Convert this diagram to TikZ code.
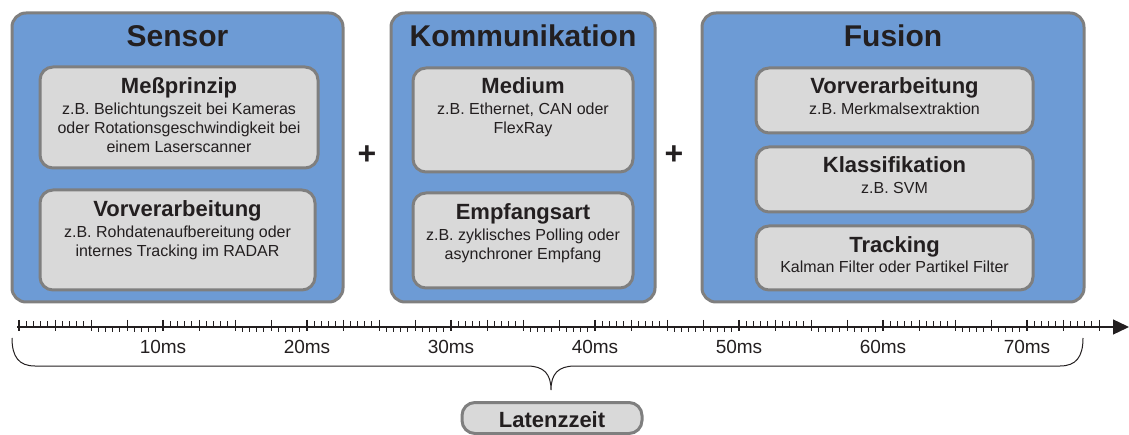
\documentclass[tikz,border=0pt]{standalone}
\usepackage{fontspec}
\setmainfont{Liberation Sans}
\usetikzlibrary{arrows.meta}
\definecolor{panelblue}{HTML}{6D9BD5}
\definecolor{framegray}{HTML}{7F7F7F}
\definecolor{cardgray}{HTML}{D9D9D9}
\definecolor{ink}{HTML}{231F20}
\begin{document}
\begin{tikzpicture}[x=1pt,y=-1pt,
  panel/.style={draw=framegray, line width=3pt, fill=panelblue, rounded corners=14pt, inner sep=0pt},
  card/.style={draw=framegray, line width=3pt, fill=cardgray, rounded corners=13pt, inner sep=0pt},
  bigtitle/.style={anchor=base, inner sep=0pt, text=ink, font=\fontsize{30}{36}\selectfont\bfseries},
  subtitle/.style={anchor=base, inner sep=0pt, text=ink, font=\fontsize{22}{26}\selectfont\bfseries},
  % multi-line bodies are anchored at the baseline of their last line
  body/.style={anchor=base, inner sep=0pt, text=ink, align=center, font=\fontsize{16}{19}\selectfont},
  plus/.style={inner sep=0pt, text=ink, font=\fontsize{32}{36}\selectfont\bfseries},
  ticklabel/.style={inner sep=0pt, text=ink, font=\fontsize{19}{22}\selectfont},
  majortick/.style={draw=ink, line width=2pt},
  midtick/.style={draw=ink, line width=0.9pt},
  minortick/.style={draw=ink, line width=0.7pt},
]
\useasboundingbox (0,0) rectangle (1129,435);

% ---- three stages ----
\node[panel, minimum width=331pt, minimum height=289pt] (sensor) at (177.5,157.5) {};
\node[panel, minimum width=264pt, minimum height=289pt] (komm) at (523,157.5) {};
\node[panel, minimum width=382pt, minimum height=289pt] (fusion) at (893,157.5) {};

\node[bigtitle] (sensorT) at (177.5,47) {Sensor};
\node[bigtitle] (kommT) at (523,47) {Kommunikation};
\node[bigtitle] (fusionT) at (893,47) {Fusion};

% Sensor
\node[card, minimum width=278pt, minimum height=101pt] (mess) at (179,117.5) {};
\node[subtitle] (messT) at (179,94) {Meßprinzip};
\node[body] (messB) at (179,152.5) {z.B. Belichtungszeit bei Kameras\\oder Rotationsgeschwindigkeit bei\\einem Laserscanner};

\node[card, minimum width=275pt, minimum height=100pt] (svor) at (177.5,240) {};
\node[subtitle] (svorT) at (177.5,216.5) {Vorverarbeitung};
\node[body] (svorB) at (177.5,256.5) {z.B. Rohdatenaufbereitung oder\\internes Tracking im RADAR};

% Kommunikation
\node[card, minimum width=220pt, minimum height=104pt] (medium) at (523,120) {};
\node[subtitle] (mediumT) at (523,94) {Medium};
\node[body] (mediumB) at (523,133.5) {z.B. Ethernet, CAN oder\\FlexRay};

\node[card, minimum width=220pt, minimum height=95pt] (empf) at (523,240.5) {};
\node[subtitle] (empfT) at (523,219.5) {Empfangsart};
\node[body] (empfB) at (523,259.5) {z.B. zyklisches Polling oder\\asynchroner Empfang};

% Fusion
\node[card, minimum width=277pt, minimum height=65pt] (fvor) at (894.5,100.5) {};
\node[subtitle] (fvorT) at (894.5,94) {Vorverarbeitung};
\node[body] (fvorB) at (894.5,114.5) {z.B. Merkmalsextraktion};

\node[card, minimum width=277pt, minimum height=65pt] (klass) at (894.5,179.5) {};
\node[subtitle] (klassT) at (894.5,172.5) {Klassifikation};
\node[body] (klassB) at (894.5,193.5) {z.B. SVM};

\node[card, minimum width=277pt, minimum height=64pt] (track) at (894.5,258) {};
\node[subtitle] (trackT) at (894.5,252.5) {Tracking};
\node[body] (trackB) at (894.5,272.5) {Kalman Filter oder Partikel Filter};

% plus signs between the stages
\node[plus] (plusA) at (367,155) {+};
\node[plus] (plusB) at (674,155) {+};

% ---- time axis ----
\coordinate (ax0) at (17,327);
\coordinate (ax1) at (1129,327);
\draw[draw=ink, line width=1.3pt, -{Triangle[length=16pt,width=15pt]}] (ax0) -- (ax1);

\foreach \i in {0,...,150}{
  \pgfmathsetmacro\xx{19+7.2*\i}
  \pgfmathtruncatemacro\r{mod(\i,20)}
  \pgfmathtruncatemacro\q{mod(\i,5)}
  \ifnum\r=0
    \draw[majortick] (\xx,320) -- (\xx,331);
  \else\ifnum\q=0
    \draw[midtick] (\xx,320) -- (\xx,331.5);
  \else\ifnum\r<10
    \draw[minortick] (\xx,321.5) -- (\xx,327);
  \else
    \draw[minortick] (\xx,327) -- (\xx,332.5);
  \fi\fi\fi
}

\foreach \k in {1,...,7}{
  \node[ticklabel] (lab\k) at (19+144*\k,347) {\k0ms};
}

% ---- brace spanning the whole latency ----
\coordinate (brL) at (12,338);
\coordinate (brR) at (1083,338);
\coordinate (brTip) at (551,390);
\draw[draw=ink, line width=1pt]
  (brL) .. controls (12,357) and (19,366) .. (35,366)
  -- (527,366) .. controls (544,366) and (551,374) .. (brTip)
  .. controls (551,374) and (558,366) .. (575,366)
  -- (1060,366) .. controls (1076,366) and (1083,357) .. (brR);

\node[card, minimum width=180pt, minimum height=31pt, rounded corners=13pt] (lat) at (552,418) {};
\node[subtitle] (latT) at (552,427) {Latenzzeit};
\end{tikzpicture}
\end{document}
